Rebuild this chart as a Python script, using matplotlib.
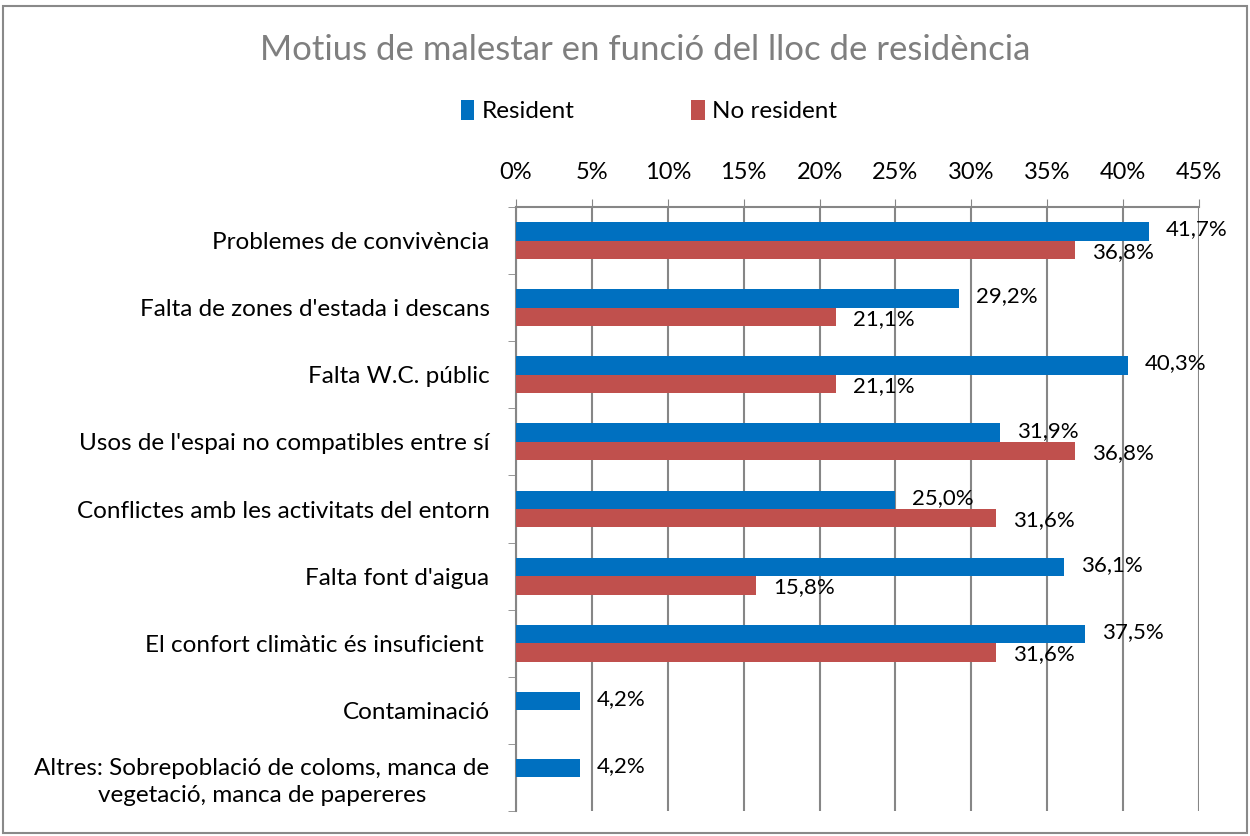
import numpy as np
import matplotlib.pyplot as plt
from matplotlib.patches import Rectangle

plt.rcParams['font.family'] = ['Lato', 'DejaVu Sans']

categories = [
    "Problemes de convivència",
    "Falta de zones d'estada i descans",
    "Falta W.C. públic",
    "Usos de l'espai no compatibles entre sí",
    "Conflictes amb les activitats del entorn",
    "Falta font d'aigua",
    "El confort climàtic és insuficient ",
    "Contaminació",
    "Altres: Sobrepoblació de coloms, manca de\nvegetació, manca de papereres",
]
resident = [41.7, 29.2, 40.3, 31.9, 25.0, 36.1, 37.5, 4.2, 4.2]
no_resident = [36.8, 21.1, 21.1, 36.8, 31.6, 15.8, 31.6, None, None]
series_names = ["Resident", "No resident"]
xticks = [0, 5, 10, 15, 20, 25, 30, 35, 40, 45]

blue = "#0070C0"
red = "#C0504D"
grid_c = "#868686"

fig = plt.figure(figsize=(12.5, 8.36), dpi=100)
ax = fig.add_axes([516/1250, 1-811/836, (1199-516)/1250, (811-207)/836])

y = np.arange(len(categories))
h = 0.275

def fmt(v):
    return f"{v:.1f}".replace(".", ",") + "%"

for i, v in enumerate(resident):
    ax.barh(y[i] - h/2, v, height=h, color=blue, zorder=3,
            label=series_names[0] if i == 0 else None)
    ax.annotate(fmt(v), (v, y[i] - h/2), xytext=(17, 2), textcoords='offset pixels',
                va='center', ha='left', fontsize=16, color='black', zorder=4)
for i, v in enumerate(no_resident):
    if v is None:
        continue
    ax.barh(y[i] + h/2, v, height=h, color=red, zorder=3,
            label=series_names[1] if i == 0 else None)
    ax.annotate(fmt(v), (v, y[i] + h/2), xytext=(17, -2), textcoords='offset pixels',
                va='center', ha='left', fontsize=16, color='black', zorder=4)

ax.set_xlim(0, 45)
ax.set_ylim(len(categories) - 0.5, -0.5)
ax.set_xticks(xticks)
ax.set_xticklabels([f"{t}%" for t in xticks], fontsize=17)
ax.xaxis.tick_top()
ax.tick_params(axis='x', direction='out', length=6, color=grid_c, pad=11)
ax.set_yticks(y)
ax.set_yticklabels(categories, fontsize=17.5)
ax.set_yticks(np.arange(len(categories) + 1) - 0.5, minor=True)
ax.tick_params(axis='y', which='major', length=0, pad=19)
ax.tick_params(axis='y', which='minor', direction='out', length=6, color=grid_c)
for lab in ax.get_yticklabels():
    lab.set_multialignment('center')
    lab.set_linespacing(1.35)

ax.grid(axis='x', color=grid_c, linewidth=1.5, zorder=0)
for s in ['right', 'bottom']:
    ax.spines[s].set_visible(False)
for s in ['top', 'left']:
    ax.spines[s].set_color(grid_c)
    ax.spines[s].set_linewidth(1.5)

fig.text(645/1250, 1-50/836, "Motius de malestar en funció del lloc de residència",
         ha='center', va='center', fontsize=25, color='#7F7F7F')

fig.legend(loc='center', bbox_to_anchor=(649/1250, 1-111/836), ncol=2, frameon=False,
           fontsize=17.5, handlelength=0.55, handleheight=0.9, handletextpad=0.3,
           columnspacing=4.8)

fig.patches.append(Rectangle((3/1250, 3/836), 1244/1250, 827/836, transform=fig.transFigure,
                             fill=False, edgecolor='#898989', linewidth=1.5))

fig.savefig("out.png", dpi=100)
